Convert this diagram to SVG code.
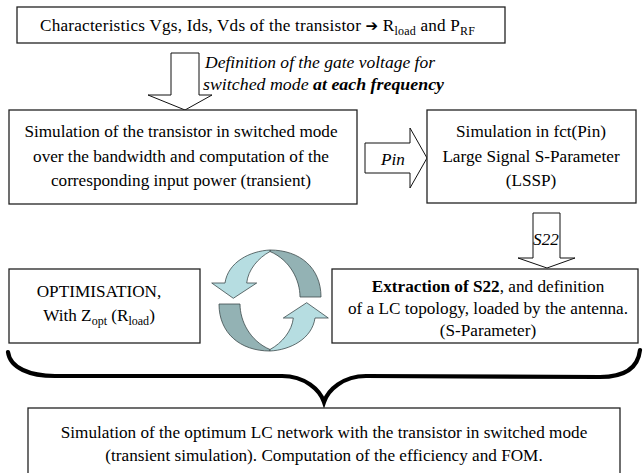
<svg xmlns="http://www.w3.org/2000/svg" width="643" height="473" viewBox="0 0 643 473">
<style>
.box{fill:#fff;stroke:#222;stroke-width:1.3}
.blk{fill:#fff;stroke:#111;stroke-width:1}
.t{font-size:17.2px;fill:#000}
.c{text-anchor:middle}
.it{font-style:italic}
.light{fill:#b6dde1;stroke:#3c4a4b;stroke-width:0.8}
.dark{fill:#93b2b4;stroke:#3c4a4b;stroke-width:0.8}
.brace{fill:none;stroke:#000;stroke-width:4.2;stroke-linecap:round}
</style>
<rect width="643" height="473" fill="#fff"/>
<g font-family="Liberation Serif, Times New Roman, serif">
<g id="connectors">
  <polygon class="blk" points="171,53 199,53 199,95 212,95 185,110 148,95 171,95"/>
  <text class="t it" x="205" y="68" textLength="230" lengthAdjust="spacingAndGlyphs">Definition of the gate voltage for</text>
  <text class="t it" x="203" y="90" textLength="241" lengthAdjust="spacingAndGlyphs">switched mode <tspan font-weight="bold">at each frequency</tspan></text>
  <polygon class="blk" points="365,143 410,143 410,128 427,158 410,188 410,173 365,173"/>
  <text class="t it c" x="393" y="165">Pin</text>
  <polygon class="blk" points="533,213 560,213 560,258 575,258 547,268 518,258 533,258"/>
  <text class="t it c" x="546" y="245">S22</text>
  <g id="cycle">
    <g id="cyc-top">
      <path class="dark" d="M270,250 C300,250 321,268 321,297 L300,297 C300,280 290,260 270,251.5 Z"/>
      <path class="light" d="M270,250 C250,251 228,262 225,283 L211.7,283 L233.3,298.3 L256.7,283 L246.7,283 C248,270 258,258 270,251.5 Z"/>
    </g>
    <g transform="rotate(180 270 300.5)">
      <path class="dark" d="M270,250 C300,250 321,268 321,297 L300,297 C300,280 290,260 270,251.5 Z"/>
      <path class="light" d="M270,250 C250,251 228,262 225,283 L211.7,283 L233.3,298.3 L256.7,283 L246.7,283 C248,270 258,258 270,251.5 Z"/>
    </g>
  </g>
  <path class="brace" d="M8,352 C10,368 30,376 55,376 L282,376 C305,376 320,390 324,402 C328,390 343,376 366,376 L600,377 C625,377 638,368 640,350"/>
</g>
<g id="n1">
  <rect class="box" x="17" y="7" width="488" height="36"/>
  <text class="t" x="40" y="31" textLength="435" lengthAdjust="spacing">Characteristics Vgs, Ids, Vds of the transistor <tspan font-family="DejaVu Sans" font-weight="bold" font-size="15">➔</tspan> R<tspan font-size="12" dy="4">load</tspan><tspan dy="-4"> and P</tspan><tspan font-size="12" dy="4">RF</tspan></text>
</g>
<g id="n2">
  <rect class="box" x="9" y="110" width="348" height="94"/>
  <text class="t c" x="181" y="137">Simulation of the transistor in switched mode</text>
  <text class="t c" x="181" y="162">over the bandwidth and computation of the</text>
  <text class="t c" x="181" y="186">corresponding input power (transient)</text>
</g>
<g id="n3">
  <rect class="box" x="427" y="110" width="209" height="93"/>
  <text class="t c" x="531" y="137">Simulation in fct(Pin)</text>
  <text class="t c" x="531" y="162">Large Signal S-Parameter</text>
  <text class="t c" x="531" y="186">(LSSP)</text>
</g>
<g id="n4">
  <rect class="box" x="332" y="269" width="306" height="74"/>
  <text class="t c" x="488" y="292"><tspan font-weight="bold">Extraction of S22</tspan>, and definition</text>
  <text class="t c" x="488" y="314">of a LC topology, loaded by the antenna.</text>
  <text class="t c" x="488" y="336">(S-Parameter)</text>
</g>
<g id="n5">
  <rect class="box" x="9" y="269" width="191" height="74"/>
  <text class="t c" x="99" y="297" font-size="18">OPTIMISATION,</text>
  <text class="t c" x="99" y="321">With Z<tspan font-size="12" dy="4">opt</tspan><tspan dy="-4"> (R</tspan><tspan font-size="12" dy="4">load</tspan><tspan dy="-4">)</tspan></text>
</g>
<g id="n6">
  <rect class="box" x="28" y="408" width="592" height="70"/>
  <text class="t c" x="324" y="438">Simulation of the optimum LC network with the transistor in switched mode</text>
  <text class="t c" x="324" y="461">(transient simulation). Computation of the efficiency and FOM.</text>
</g>
</g>
</svg>
